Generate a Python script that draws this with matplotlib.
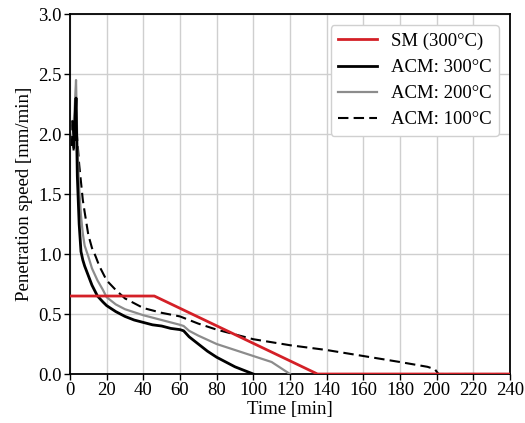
import matplotlib
matplotlib.use("Agg")
import matplotlib.pyplot as plt

plt.rcParams['font.family'] = ['Liberation Serif', 'DejaVu Serif']
plt.rcParams['mathtext.fontset'] = 'stix'

# SM (300 °C): constant speed, then linear decay
sm_t = [0, 46, 135, 240]
sm_v = [0.65, 0.65, 0.0, 0.0]

# ACM: 300 °C
acm300_t = [1.5, 2.3, 3.3, 4.0, 5.0, 6.0, 7.0, 8.0, 10, 12, 15, 18, 20, 25, 30, 35, 40,
            45, 50, 55, 60, 62, 65, 70, 75, 80, 85, 90, 95, 100]
acm300_v = [2.10, 1.95, 2.30, 1.65, 1.25, 1.02, 0.95, 0.90, 0.82, 0.74, 0.65, 0.60, 0.57,
            0.52, 0.48, 0.45, 0.43, 0.41, 0.40, 0.38, 0.37, 0.36, 0.31, 0.25, 0.19, 0.14,
            0.10, 0.06, 0.03, 0.0]

# ACM: 200 °C
acm200_t = [1.5, 2.5, 3.3, 4, 5, 6, 7, 8, 10, 12, 15, 18, 20, 25, 30, 40, 50, 55, 60, 62,
            65, 70, 80, 90, 100, 110, 115, 120]
acm200_v = [2.00, 2.20, 2.45, 1.90, 1.55, 1.32, 1.17, 1.07, 0.98, 0.88, 0.78, 0.70, 0.64,
            0.58, 0.54, 0.49, 0.45, 0.43, 0.41, 0.40, 0.36, 0.32, 0.25, 0.20, 0.15, 0.10,
            0.05, 0.0]

# ACM: 100 °C
acm100_t = [1.0, 1.5, 2.0, 2.5, 3.0, 3.5, 4, 5, 6, 7, 8, 10, 12, 14, 16, 18, 20, 25, 30,
            40, 50, 60, 70, 80, 90, 100, 120, 140, 160, 180, 195, 199, 201, 240]
acm100_v = [1.90, 2.12, 1.85, 2.10, 2.28, 2.05, 1.95, 1.75, 1.60, 1.45, 1.35, 1.16, 1.05,
            0.98, 0.90, 0.84, 0.78, 0.70, 0.63, 0.55, 0.51, 0.48, 0.42, 0.37, 0.33, 0.29,
            0.24, 0.20, 0.15, 0.10, 0.06, 0.04, 0.0, 0.0]

x_ticks = list(range(0, 241, 20))
y_ticks = [0.0, 0.5, 1.0, 1.5, 2.0, 2.5, 3.0]

fig = plt.figure(figsize=(5.25, 4.23), dpi=100)
ax = fig.add_axes([0.1333, 0.1158, 0.8381, 0.851])

ax.plot(acm100_t, acm100_v, color='black', lw=1.5, ls=(0, (5, 2.5)), label='ACM: 100°C', zorder=3)
ax.plot(acm200_t, acm200_v, color='#8c8c8c', lw=1.6, label='ACM: 200°C', zorder=3)
ax.plot(acm300_t, acm300_v, color='black', lw=2.0, label='ACM: 300°C', zorder=3)
ax.plot(sm_t, sm_v, color='#d42027', lw=2.0, label='SM (300°C)', zorder=4)

ax.set_xlim(0, 240)
ax.set_ylim(0, 3.0)
ax.set_xticks(x_ticks)
ax.set_yticks(y_ticks)
ax.set_yticklabels([f'{v:.1f}' for v in y_ticks])
ax.grid(True, color='#cfcfcf', lw=1.0)
ax.set_axisbelow(True)
ax.tick_params(labelsize=13.5, direction='out', length=4, width=1.0, pad=2)

for s in ax.spines.values():
    s.set_linewidth(1.3)
    s.set_color('black')

ax.set_xlabel('Time [min]', fontsize=13.5, labelpad=1)
ax.set_ylabel('Penetration speed [mm/min]', fontsize=13.5, labelpad=4)

handles, labels = ax.get_legend_handles_labels()
order = [3, 2, 1, 0]
leg = ax.legend([handles[i] for i in order], [labels[i] for i in order],
                loc='upper right', fontsize=13.5, frameon=True, fancybox=True,
                edgecolor='#d0d0d0', framealpha=1.0, handlelength=2.1,
                handletextpad=0.7, borderpad=0.4, labelspacing=0.48,
                borderaxespad=0.6)

fig.savefig('out.png', dpi=100)
